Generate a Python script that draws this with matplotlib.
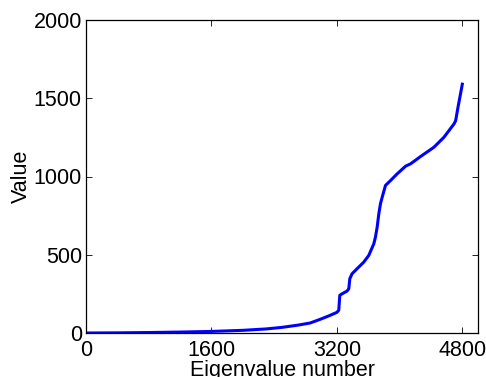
import matplotlib
matplotlib.use("Agg")
import matplotlib.pyplot as plt

plt.rcParams['font.family'] = ['Liberation Sans', 'DejaVu Sans']

# eigenvalue index vs value
eig_index = [1, 400, 800, 1200, 1600, 2000, 2300, 2500, 2700, 2860, 2990, 3100,
             3200, 3224, 3237, 3254, 3330, 3352, 3365, 3394, 3458, 3543, 3607,
             3671, 3692, 3714, 3735, 3756, 3778, 3820, 3884, 3969, 4076, 4140,
             4268, 4438, 4566, 4694, 4715, 4745, 4800]
eig_value = [0, 1, 3, 6, 10, 17, 26, 36, 50, 64, 88, 110,
             132, 145, 240, 247, 268, 283, 347, 379, 411, 453, 496,
             570, 613, 677, 762, 826, 868, 943, 974, 1017, 1066, 1081,
             1128, 1187, 1251, 1336, 1357, 1443, 1590]

fig = plt.figure(figsize=(4.86, 3.77), dpi=100)
ax = fig.add_axes([86/486, 1 - 333/377, (478-86)/486, (333-20)/377])

ax.plot(eig_index, eig_value, color='#0000ff', linewidth=2.2)

ax.set_xlim(0, 5000)
ax.set_ylim(0, 2000)
ax.set_xticks([0, 1600, 3200, 4800])
ax.set_yticks([0, 500, 1000, 1500, 2000])
ax.tick_params(direction='in', length=4, width=0.6, top=True, right=True,
               labelsize=15.5)
ax.tick_params(axis='x', pad=5)
ax.tick_params(axis='y', pad=3)
for s in ax.spines.values():
    s.set_linewidth(0.9)

# the x label runs off the bottom edge, as in the original figure
ax.set_xlabel('Eigenvalue number', fontsize=15.5, labelpad=-1)
ax.set_ylabel('Value', fontsize=15.5, labelpad=1)

fig.savefig('out.png', dpi=100)
